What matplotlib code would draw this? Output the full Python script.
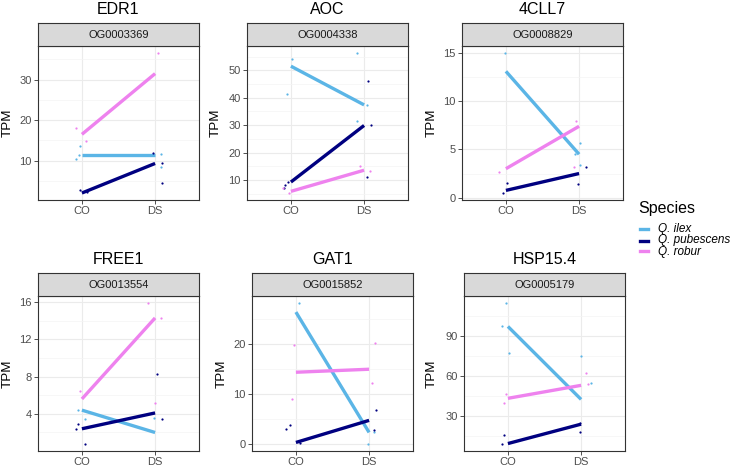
import numpy as np
import matplotlib
matplotlib.use('Agg')
import matplotlib.pyplot as plt
from matplotlib.lines import Line2D
from matplotlib.ticker import FixedLocator

plt.rcParams['font.family'] = ['Liberation Sans', 'DejaVu Sans']

genes = ['EDR1', 'AOC', '4CLL7', 'FREE1', 'GAT1', 'HSP15.4']
orthogroups = ['OG0003369', 'OG0004338', 'OG0008829', 'OG0013554', 'OG0015852', 'OG0005179']
conditions = ['CO', 'DS']
species = ['Q. ilex', 'Q. pubescens', 'Q. robur']
colors = ['#5BB5E6', '#000080', '#EE82EE']

# mean TPM per gene, [CO, DS]
ilex_mean = [[11.3, 11.3], [51.5, 37.4], [13.1, 4.5], [4.4, 2.0], [26.3, 2.3], [97.0, 42.5]]
pub_mean = [[2.0, 9.3], [9.3, 29.9], [0.75, 2.5], [2.4, 4.1], [0.3, 4.7], [9.5, 24.0]]
rob_mean = [[16.5, 31.5], [5.9, 13.6], [3.0, 7.4], [5.6, 14.3], [14.3, 14.9], [43.3, 53.0]]

# single replicates (visible ones) and their jitter
ilex_co = [[10.5, 11.5, 13.5], [54.0, 41.3], [15.0], [4.4, 3.4], [28.1], [114.5, 97.5, 77.5]]
ilex_co_jit = [[-0.08, -0.04, -0.03], [0.02, -0.05], [-0.01], [-0.05, 0.04], [0.04], [-0.02, -0.08, 0.01]]
ilex_ds = [[11.7, 8.4], [56.3, 37.3, 31.7], [5.7, 4.5, 3.4], [3.6], [0.0, 2.3], [75.0, 55.0]]
ilex_ds_jit = [[0.08, 0.08], [-0.1, 0.04, -0.1], [0.01, -0.06, 0.01], [-0.01], [-0.02, 0.07], [0.0, 0.13]]
pub_co = [[2.7, 2.2], [9.4, 8.2, 7.2], [1.55, 0.48], [2.9, 2.4, 0.77], [2.9, 3.8, 0.2], [15.7, 9.2]]
pub_co_jit = [[-0.03, 0.07], [-0.04, -0.08, -0.1], [0.01, -0.04], [-0.05, -0.08, 0.04], [-0.13, -0.08, 0.05], [-0.06, -0.08]]
pub_ds = [[12.0, 9.5, 4.5], [46.1, 29.9, 11.2], [3.2, 1.4], [8.3, 3.5], [6.7, 2.8], [25.0, 18.0]]
pub_ds_jit = [[-0.03, 0.1, 0.1], [0.05, 0.09, 0.04], [0.1, -0.02], [0.03, 0.09], [0.09, 0.07], [-0.02, -0.01]]
rob_co = [[18.0, 14.9], [7.0, 5.3], [2.7], [6.5], [19.8, 8.9], [46.7, 40.0]]
rob_co_jit = [[-0.08, 0.05], [-0.11, -0.03], [-0.1], [-0.03], [-0.03, -0.06], [-0.02, -0.06]]
rob_ds = [[36.6], [15.3, 13.4], [7.9, 3.2], [15.9, 14.3, 5.2], [20.2, 12.2], [62.5, 53.7]]
rob_ds_jit = [[0.04], [-0.05, 0.08], [-0.04, -0.07], [-0.1, 0.08, 0.0], [0.08, 0.04], [0.07, 0.1]]

yticks = [[10, 20, 30], [10, 20, 30, 40, 50], [0, 5, 10, 15], [4, 8, 12, 16], [0, 10, 20], [30, 60, 90]]

means = [ilex_mean, pub_mean, rob_mean]
pts = [(ilex_co, ilex_co_jit, ilex_ds, ilex_ds_jit),
       (pub_co, pub_co_jit, pub_ds, pub_ds_jit),
       (rob_co, rob_co_jit, rob_ds, rob_ds_jit)]

W, H = 744, 467
fig = plt.figure(figsize=(W / 100, H / 100), dpi=100)

# panel layout in pixels
lefts = [38, 247, 462, 38, 252, 464]
rows = [(23, 46, 200, 10), (273, 296, 451, 259)]  # strip top, panel top, bottom, title y
ylab_x = [8, 216, 432, 8, 222, 432]

def frac(l, r, t, b):
    return [l / W, 1 - b / H, (r - l) / W, (b - t) / H]

for i, g in enumerate(genes):
    l = lefts[i]
    r = l + 161
    st, pt, bt, ty = rows[i // 3]
    ax = fig.add_axes(frac(l, r, pt, bt))
    for s in range(3):
        ax.plot([1, 2], means[s][i], color=colors[s], lw=2.4, solid_capstyle='butt', zorder=3)
        co, coj, ds, dsj = pts[s]
        ax.plot(1 + np.array(coj[i]), co[i], 'o', ms=1.6, mew=0, color=colors[s], zorder=4)
        ax.plot(2 + np.array(dsj[i]), ds[i], 'o', ms=1.6, mew=0, color=colors[s], zorder=4)
    ax.set_xlim(0.4, 2.6)
    ax.margins(y=0.05)
    ax.set_xticks([1, 2])
    ax.set_xticklabels(conditions)
    yt = yticks[i]
    step = yt[1] - yt[0]
    ax.yaxis.set_major_locator(FixedLocator(yt))
    ax.yaxis.set_minor_locator(FixedLocator(np.arange(yt[0] - 2.5 * step, yt[-1] + 2 * step, step / 2)))
    ax.grid(which='major', color='#EBEBEB', lw=0.8, zorder=0)
    ax.grid(which='minor', axis='y', color='#F4F4F4', lw=0.5, zorder=0)
    ax.set_axisbelow(True)
    ax.tick_params(which='major', length=3, width=0.6, color='#333333', labelcolor='#4D4D4D',
                   labelsize=8, pad=1.5)
    ax.tick_params(which='minor', length=0)
    for sp in ax.spines.values():
        sp.set_color('#333333')
        sp.set_linewidth(0.8)
    fig.text(ylab_x[i] / W, 1 - (pt + bt) / 2 / H, 'TPM', rotation=90, ha='center', va='center',
             fontsize=9.7)
    # strip
    sax = fig.add_axes(frac(l, r, st, pt))
    sax.set_facecolor('#D9D9D9')
    sax.set_xticks([])
    sax.set_yticks([])
    for sp in sax.spines.values():
        sp.set_color('#333333')
        sp.set_linewidth(0.8)
    sax.text(0.5, 0.5, orthogroups[i], ha='center', va='center', fontsize=8, color='#1A1A1A',
             transform=sax.transAxes)
    fig.text((l + r) / 2 / W, 1 - ty / H, g, ha='center', va='center', fontsize=11.5)

# legend
fig.text(638 / W, 1 - 209 / H, 'Species', ha='left', va='center', fontsize=11.5)
for s, y in zip(range(3), [229.5, 240.5, 251.5]):
    fig.add_artist(Line2D([640 / W, 648 / W], [1 - y / H, 1 - y / H], color=colors[s], lw=2.4,
                          transform=fig.transFigure))
    fig.text(658 / W, 1 - y / H, species[s], ha='left', va='center', fontsize=8.5, style='italic')

fig.savefig('out.png', dpi=100)
